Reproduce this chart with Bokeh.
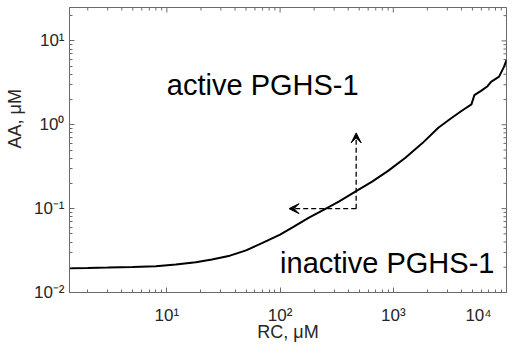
import math
from bokeh.plotting import figure
from bokeh.models import Label, Arrow, VeeHead, Range1d, FixedTicker, Title
from bokeh.embed import file_html
from bokeh.resources import INLINE

# ---- data ----
rc = [1.38, 2, 3, 5, 8, 12, 18, 25, 36, 50, 70, 100, 130, 180, 240, 330, 470,
      650, 900, 1280, 1800, 2500, 3200, 4000, 4900, 5200, 6000, 6800, 7300,
      8600, 9500, 10000]
aa = [0.0195, 0.0196, 0.0198, 0.0201, 0.0206, 0.0215, 0.0230, 0.0248, 0.0275,
      0.0318, 0.0390, 0.0490, 0.0600, 0.0780, 0.0960, 0.121, 0.162, 0.210,
      0.282, 0.405, 0.60, 0.92, 1.18, 1.46, 1.75, 2.25, 2.55, 2.88, 3.25,
      3.75, 4.9, 5.9]

x_ticks = [10, 100, 1000, 10000]
x_tick_labels = ["10\u00b9", "10\u00b2", "10\u00b3", "10\u2074\u00a0\u00a0\u00a0\u00a0"]
y_ticks = [0.01, 0.1, 1, 10]
y_tick_labels = ["10\u207b\u00b2", "10\u207b\u00b9", "10\u2070", "10\u00b9"]
x_lim = (1.38, 10000)
y_lim = (0.01, 25)

arrow_corner = (470, 0.1)
arrow_left_end = 120
arrow_up_end = 0.8

region_texts = ["active PGHS-1", "inactive PGHS-1"]
region_x = [10, 100]
region_y = [3.0, 0.0225]

x_label = "RC, \u03bcM"
y_label = "AA, \u03bcM"

FONT = "Liberation Sans"
AX = "#6a6a6a"
TXT = "#262626"

# minor tick positions (2..9 in each decade)
x_minor = [k * 10.0 ** d for d in range(0, 4) for k in range(2, 10)
           if x_lim[0] <= k * 10.0 ** d <= x_lim[1]]
y_minor = [k * 10.0 ** d for d in range(-2, 2) for k in range(2, 10)
           if y_lim[0] <= k * 10.0 ** d <= y_lim[1]]

p = figure(width=510, height=344, x_axis_type="log", y_axis_type="log",
           x_range=Range1d(*x_lim), y_range=Range1d(*y_lim),
           output_backend="svg", toolbar_location=None,
           min_border_left=66, min_border_right=4, min_border_top=7,
           min_border_bottom=49)
p.outline_line_color = AX
p.outline_line_width = 1
p.grid.visible = False
p.background_fill_color = "white"
p.border_fill_color = "white"

p.xaxis.ticker = FixedTicker(ticks=x_ticks, minor_ticks=x_minor)
p.yaxis.ticker = FixedTicker(ticks=y_ticks, minor_ticks=y_minor)
p.xaxis.major_label_overrides = {t: s for t, s in zip(x_ticks, x_tick_labels)}
p.yaxis.major_label_overrides = {t: s for t, s in zip(y_ticks, y_tick_labels)}

for ax in p.axis:
    ax.axis_line_color = AX
    ax.axis_line_width = 1
    ax.major_tick_line_color = AX
    ax.minor_tick_line_color = AX
    ax.major_tick_in = 5
    ax.major_tick_out = 0
    ax.minor_tick_in = 3
    ax.minor_tick_out = 0
    ax.major_label_text_font = FONT
    ax.major_label_text_font_size = "17px"
    ax.major_label_text_color = TXT

p.yaxis.major_label_standoff = 5
p.xaxis.major_label_standoff = 13
p.xaxis.axis_label = x_label
p.xaxis.axis_label_text_font = FONT
p.xaxis.axis_label_text_font_size = "18px"
p.xaxis.axis_label_text_font_style = "normal"
p.xaxis.axis_label_text_color = TXT
p.xaxis.axis_label_standoff = -6

# ticks on the top and right edges (half of each dash is clipped by the frame)
p.scatter(x_ticks, [y_lim[1]] * len(x_ticks), marker="dash", angle=math.pi / 2,
          size=10, line_color=AX, line_width=1)
p.scatter(x_minor, [y_lim[1]] * len(x_minor), marker="dash", angle=math.pi / 2,
          size=6, line_color=AX, line_width=1)
p.scatter([x_lim[1]] * len(y_ticks), y_ticks, marker="dash",
          size=10, line_color=AX, line_width=1)
p.scatter([x_lim[1]] * len(y_minor), y_minor, marker="dash",
          size=6, line_color=AX, line_width=1)

# y axis title, placed above centre as in the reference
p.add_layout(Title(text=y_label, align="left", offset=144, vertical_align="top",
                   text_font=FONT, text_font_size="18px", text_font_style="normal",
                   text_color=TXT, standoff=8), "left")

# curve
p.line(rc, aa, line_color="black", line_width=2)

# dashed arrows
for xe, ye in [(arrow_left_end, arrow_corner[1]), (arrow_corner[0], arrow_up_end)]:
    p.add_layout(Arrow(end=VeeHead(size=10, fill_color="black", line_color="black", line_width=1),
                       x_start=arrow_corner[0], y_start=arrow_corner[1],
                       x_end=xe, y_end=ye,
                       line_color="black", line_width=1.3, line_dash="5 3"))

# region texts
for t, xx, yy in zip(region_texts, region_x, region_y):
    p.add_layout(Label(x=xx, y=yy, text=t, text_font=FONT, text_font_size="29px",
                       text_color="black", text_align="left", text_baseline="alphabetic"))

open("out.html", "w").write(file_html(p, INLINE))
